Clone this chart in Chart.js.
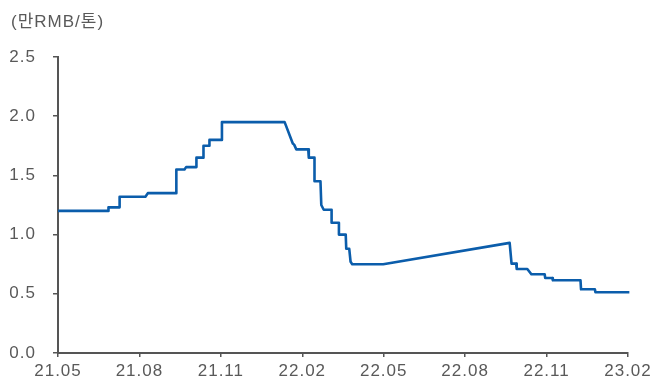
<!DOCTYPE html>
<html>
<head>
<meta charset="utf-8">
<script src="https://cdn.jsdelivr.net/npm/chart.js@4/dist/chart.umd.min.js"></script>
<style>
  html, body { margin: 0; padding: 0; background: #ffffff; }
  #wrap { width: 670px; height: 383px; }
</style>
</head>
<body>
<div id="wrap"><canvas id="c" width="670" height="383"></canvas></div>
<script>
// Position along the time axis, in months since 2021-05
const months = [
  0, 1.86, 1.86, 2.27, 2.27, 3.22, 3.31, 4.36, 4.36, 4.66, 4.72, 5.10, 5.10,
  5.36, 5.36, 5.58, 5.58, 6.04, 6.04, 8.35, 8.65, 8.70, 8.78, 9.22, 9.24,
  9.45, 9.45, 9.67, 9.70, 9.79, 10.08, 10.08, 10.35, 10.35, 10.60, 10.62,
  10.73, 10.78, 10.84, 11.98, 16.64, 16.71, 16.88, 16.90, 17.29, 17.44,
  17.93, 17.95, 18.21, 18.23, 19.25, 19.27, 19.78, 19.80, 21.05
];
// Price, 10k RMB per tonne
const prices = [
  1.20, 1.20, 1.23, 1.23, 1.32, 1.32, 1.35, 1.35, 1.55, 1.55, 1.57, 1.57, 1.65,
  1.65, 1.75, 1.75, 1.80, 1.80, 1.95, 1.95, 1.77, 1.76, 1.72, 1.72, 1.65,
  1.65, 1.45, 1.45, 1.25, 1.21, 1.21, 1.10, 1.10, 1.00, 1.00, 0.88,
  0.88, 0.77, 0.75, 0.75, 0.93, 0.755, 0.755, 0.71, 0.71, 0.665,
  0.665, 0.633, 0.633, 0.614, 0.614, 0.538, 0.538, 0.513, 0.513
];
const tickLabels = ['21.05', '21.08', '21.11', '22.02', '22.05', '22.08', '22.11', '23.02'];
const unitLabel = '(만RMB/톤)';

const FONT = '"Liberation Sans", Arial, "Noto Sans CJK KR", sans-serif';
const TEXT = '#595959';
const AXIS = '#555555';

const points = months.map((m, i) => ({ x: m, y: prices[i] }));

const unitTitle = {
  id: 'unitTitle',
  beforeDraw(chart) {
    chart.ctx.letterSpacing = '1px';
  },
  afterDraw(chart) {
    const ctx = chart.ctx;
    ctx.save();
    ctx.font = '17px ' + FONT;
    ctx.fillStyle = TEXT;
    ctx.textAlign = 'left';
    ctx.textBaseline = 'middle';
    ctx.fillText(unitLabel, 11, 22);
    ctx.restore();
  }
};

new Chart(document.getElementById('c'), {
  type: 'line',
  data: {
    datasets: [{
      data: points,
      borderColor: '#0b5dab',
      borderWidth: 2.6,
      borderJoinStyle: 'round',
      borderCapStyle: 'butt',
      pointRadius: 0,
      tension: 0,
      fill: false,
      clip: false
    }]
  },
  options: {
    responsive: false,
    animation: false,
    events: [],
    layout: { padding: { left: 0, top: 57, right: 42, bottom: 0 } },
    plugins: { legend: { display: false }, tooltip: { enabled: false }, title: { display: false } },
    scales: {
      x: {
        type: 'linear',
        min: 0,
        max: 21,
        grid: { display: true, drawOnChartArea: false, drawTicks: true, tickLength: 4, color: AXIS, lineWidth: 1.5 },
        border: { display: true, color: AXIS, width: 2 },
        ticks: {
          stepSize: 3,
          autoSkip: false,
          maxRotation: 0,
          padding: 4,
          color: TEXT,
          font: { family: FONT, size: 17 },
          callback: (v) => tickLabels[Math.round(v / 3)]
        },
        afterFit(scale) { scale.height = 30; scale.paddingLeft = 0; scale.paddingRight = 0; }
      },
      y: {
        min: 0,
        max: 2.5,
        grid: { display: true, drawOnChartArea: false, drawTicks: true, tickLength: 5, color: AXIS, lineWidth: 1.5 },
        border: { display: true, color: AXIS, width: 2 },
        ticks: {
          stepSize: 0.5,
          padding: 17,
          color: TEXT,
          font: { family: FONT, size: 17 },
          callback: (v) => v.toFixed(1)
        },
        afterFit(scale) { scale.width = 58; scale.paddingTop = 0; scale.paddingBottom = 0; }
      }
    }
  },
  plugins: [unitTitle]
});
</script>
</body>
</html>
